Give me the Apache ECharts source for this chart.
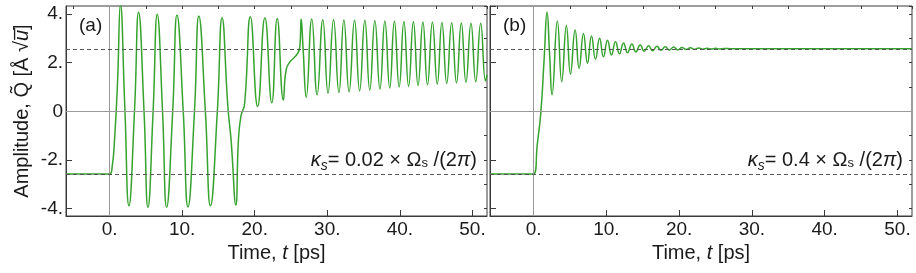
<!DOCTYPE html>
<html>
<head>
<meta charset="utf-8">
<script src="https://cdn.jsdelivr.net/npm/echarts@6/dist/echarts.min.js"></script>
<style>html,body{margin:0;padding:0;background:#fff}#c{width:916px;height:273px}</style>
</head>
<body>
<div id="c"></div>
<script>
// Panel (a): kappa_s = 0.02 x Omega_s/(2pi)
const timeA = [-6,0,0.35,0.7,1.1,1.5,2.1,2.67,3.45,4.0,4.75,5.29,6.0,6.57,7.3,7.86,8.7,9.29,10.15,10.8,11.7,12.3,13.2,13.9,14.85,15.5,16.3,16.75,17.4,17.75,18.1,18.6,19.4,20.4,21.4,22.35,23.1,23.95,24.35,26.2,26.4,26.66,27.1,27.86,28.6,29.38,30.1,30.86,31.6,32.28,33.0,33.75,34.45,35.17,35.85,36.55,37.25,37.93,38.6,39.24,39.9,40.55,41.2,41.86,42.5,43.17,43.8,44.48,45.15,45.79,46.45,47.13,47.8,48.46,49.1,49.79,50.45,51.13,51.8,52];
const ampA = [-2.57,-2.57,-2.3,-1.1,1.2,4.4,0.2,-3.88,0.1,4.07,0,-3.95,0,3.99,0,-3.94,0,3.96,0,-3.93,0,3.92,0,-3.88,0,3.85,0.2,-1.2,-3.85,-1.2,-0.2,0.3,3.89,0.2,3.85,0.35,3.82,0.47,1.73,2.63,3.8,2.6,0.58,3.8,0.68,3.77,0.75,3.76,0.77,3.75,0.81,3.74,0.84,3.74,0.88,3.72,0.92,3.71,0.96,3.7,1.0,3.69,1.03,3.68,1.06,3.67,1.09,3.66,1.12,3.65,1.15,3.64,1.17,3.63,1.2,3.62,1.22,3.62,1.25,1.5];
// Panel (b): kappa_s = 0.4 x Omega_s/(2pi)
const timeB = [-6,0,0.5,1.0,1.45,1.84,2.19,2.53,3.26,3.86,4.5,5.06,5.7,6.25,6.85,7.4,7.95,8.5,9.06,9.6,10.15,10.7,11.25,11.8,12.35,12.9,13.5,14.05,14.65,15.2,15.8,16.35,16.95,17.5,18.1,18.65,19.25,19.8,20.4,20.95,21.55,22.1,22.7,23.25,23.85,24.4,25.0,25.55,26.2,27,52];
const ampB = [-2.57,-2.57,-1.35,0,2.2,4.07,2.35,0.68,3.71,1.22,3.52,1.54,3.34,1.77,3.2,1.98,3.1,2.14,3.0,2.24,2.92,2.32,2.86,2.37,2.81,2.41,2.77,2.44,2.73,2.47,2.7,2.49,2.68,2.51,2.66,2.52,2.64,2.53,2.625,2.54,2.61,2.55,2.6,2.555,2.595,2.56,2.59,2.565,2.585,2.575,2.575];
const eqLevel = 2.57;
const panelLabels = ['(a)', '(b)'];
const kappaValues = ['0.02', '0.4'];
const xRange = [-6, 52];
const yRange = [-4.3, 4.33];

const FONT = 'Liberation Sans, Arial, sans-serif';
const green = '#36a32e';
const frame = '#3a3a3a';
const ink = '#1a1a1a';

function zip(t, q) { return t.map((v, i) => [v, q[i]]); }

const grids = [
  {left: 66, top: 6, width: 421, height: 210, show: true, borderColor: frame, borderWidth: 1},
  {left: 490, top: 6, width: 422, height: 210, show: true, borderColor: frame, borderWidth: 1}
];

const xAxes = [], yAxes = [];
[0, 1].forEach(g => {
  xAxes.push({
    type: 'value', gridIndex: g, min: xRange[0], max: xRange[1], splitNumber: 6,
    axisLine: {show: true, onZero: false, lineStyle: {color: frame}},
    axisTick: {show: true, inside: true, length: 6, lineStyle: {color: frame}},
    splitLine: {show: false},
    axisLabel: {show: true, showMinLabel: false, showMaxLabel: false, margin: 4,
      fontFamily: FONT, fontSize: 19, color: ink, formatter: v => v + '.'},
    name: '{n|Time, }{i|t}{n| [ps]}', nameLocation: 'middle', nameGap: 25,
    nameTextStyle: {rich: {
      n: {fontFamily: FONT, fontSize: 20, color: ink},
      i: {fontFamily: FONT, fontSize: 20, fontStyle: 'italic', color: ink}
    }}
  });
  xAxes.push({
    type: 'value', gridIndex: g, min: xRange[0], max: xRange[1], splitNumber: 12,
    axisLine: {show: false, onZero: false},
    axisTick: {show: true, inside: true, length: 3, lineStyle: {color: frame}},
    splitLine: {show: false}, axisLabel: {show: false}
  });
  yAxes.push({
    type: 'value', gridIndex: g, min: yRange[0], max: yRange[1], splitNumber: 4,
    axisLine: {show: true, onZero: false, lineStyle: {color: frame}},
    axisTick: {show: true, inside: true, length: 6, lineStyle: {color: frame}},
    splitLine: {show: false},
    axisLabel: {show: g === 0, showMinLabel: false, showMaxLabel: false, margin: 3,
      fontFamily: FONT, fontSize: 19, color: ink,
      formatter: v => v === 0 ? '0' : v + '.'},
    name: g === 0 ? 'Amplitude, Q\u0303 [\u00C5 \u221A{u|u\u0305}]' : '',
    nameLocation: 'middle', nameGap: 34, nameRotate: 90,
    nameTextStyle: {fontFamily: FONT, fontSize: 20, color: ink,
      rich: {u: {fontFamily: FONT, fontSize: 20, fontStyle: 'italic', color: ink}}}
  });
  yAxes.push({
    type: 'value', gridIndex: g, min: yRange[0], max: yRange[1], splitNumber: 8,
    axisLine: {show: false, onZero: false},
    axisTick: {show: true, inside: true, length: 3, lineStyle: {color: frame}},
    splitLine: {show: false}, axisLabel: {show: false}
  });
});

function refLines() {
  return {
    silent: true, symbol: 'none', label: {show: false}, animation: false,
    data: [
      {xAxis: 0, lineStyle: {color: '#9a9a9a', type: 'solid', width: 1}},
      {yAxis: 0, lineStyle: {color: '#9a9a9a', type: 'solid', width: 1}},
      {yAxis: eqLevel, lineStyle: {color: '#555', type: [4, 3], width: 1}},
      {yAxis: -eqLevel, lineStyle: {color: '#555', type: [4, 3], width: 1}}
    ]
  };
}

const series = [
  {type: 'line', xAxisIndex: 0, yAxisIndex: 0, data: zip(timeA, ampA), showSymbol: false, symbol: 'none',
   smooth: 0.5, lineStyle: {color: green, width: 1.5}, animation: false, markLine: refLines(), z: 3},
  {type: 'line', xAxisIndex: 2, yAxisIndex: 2, data: zip(timeB, ampB), showSymbol: false, symbol: 'none',
   smooth: 0.5, lineStyle: {color: green, width: 1.5}, animation: false, markLine: refLines(), z: 3}
];

function kappaText(val, xRight) {
  return {
    type: 'text', z: 10,
    style: {
      x: xRight, y: 160, align: 'right', verticalAlign: 'middle',
      text: '{k|\u03BA}{ks|s}{n|= ' + val + ' \u00D7 \u03A9}{s|s}{n| /(2}{k|\u03C0}{n|)}',
      rich: {
        k: {fontFamily: FONT, fontSize: 20, fontStyle: 'italic', fill: ink},
        ks: {fontFamily: FONT, fontSize: 14, fontStyle: 'italic', fill: ink, padding: [12, 0, 0, 0]},
        n: {fontFamily: FONT, fontSize: 20, fill: ink},
        s: {fontFamily: FONT, fontSize: 13, fill: ink, padding: [6, 0, 0, 0]}
      }
    }
  };
}

const graphics = [
  {type: 'text', z: 10, style: {x: 79, y: 26, text: panelLabels[0], verticalAlign: 'middle', font: '19px ' + FONT, fill: ink}},
  {type: 'text', z: 10, style: {x: 503, y: 26, text: panelLabels[1], verticalAlign: 'middle', font: '19px ' + FONT, fill: ink}},
  kappaText(kappaValues[0], 477),
  kappaText(kappaValues[1], 903)
];

const chart = echarts.init(document.getElementById('c'), null, {renderer: 'canvas'});
chart.setOption({
  animation: false,
  backgroundColor: '#fff',
  grid: grids, xAxis: xAxes, yAxis: yAxes, series: series, graphic: graphics
});
</script>
</body>
</html>
